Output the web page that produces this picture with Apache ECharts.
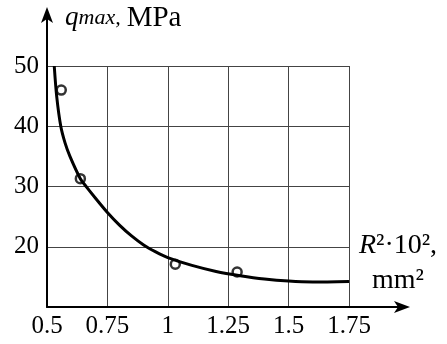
<!DOCTYPE html>
<html>
<head>
<meta charset="utf-8">
<script src="https://cdn.jsdelivr.net/npm/echarts@6/dist/echarts.min.js"></script>
<style>
    html, body { margin: 0; padding: 0; background: #fff; }
    #main { width: 447px; height: 344px; }
</style>
</head>
<body>
<div id="main"></div>
<script type="text/javascript">
    // measured points (circles)
    var pointsX = [0.559, 0.638, 1.031, 1.287];
    var pointsY = [46.0, 31.3, 17.1, 15.8];
    // fitted curve
    var curveX = [0.530, 0.540, 0.557, 0.575, 0.595, 0.638, 0.664, 0.700, 0.750, 0.800, 0.850, 0.900, 0.950, 1.000, 1.100, 1.200, 1.300, 1.400, 1.500, 1.600, 1.750];
    var curveY = [50.0, 45.0, 40.0, 37.2, 35.0, 31.3, 29.9, 28.1, 25.7, 23.6, 21.8, 20.3, 19.15, 18.2, 16.9, 15.9, 15.2, 14.65, 14.3, 14.15, 14.25];
    // axis ticks
    var xTicks = [0.5, 0.75, 1, 1.25, 1.5, 1.75];
    var yTicks = [10, 20, 30, 40, 50];

    function zip(a, b) {
        var out = [];
        for (var i = 0; i < a.length; i++) out.push([a[i], b[i]]);
        return out;
    }

    var serif = 'Liberation Serif';
    var chart = echarts.init(document.getElementById('main'), null, {renderer: 'canvas'});

    chart.setOption({
        backgroundColor: '#fff',
        animation: false,
        grid: [
            // plot area with the grid lines
            {left: 47, right: 98, top: 66, bottom: 37},
            // longer axes with arrows
            {left: 47, right: 43, top: 13, bottom: 37}
        ],
        xAxis: [
            {
                type: 'value', gridIndex: 0,
                min: xTicks[0], max: xTicks[xTicks.length - 1], interval: 0.25,
                axisLine: {show: false},
                axisTick: {show: false},
                axisLabel: {
                    color: '#000', fontFamily: serif, fontSize: 25, margin: 7,
                    showMinLabel: true, showMaxLabel: true
                },
                splitLine: {show: true, lineStyle: {color: '#444', width: 1}}
            },
            {
                type: 'value', gridIndex: 1, min: 0, max: 1,
                axisLine: {show: true, symbol: ['none', 'arrow'], symbolSize: [9, 16], symbolOffset: [0, 6],
                    lineStyle: {color: '#000', width: 2}},
                axisTick: {show: false},
                axisLabel: {show: false},
                splitLine: {show: false},
                name: '{r|R}{t|²·10²,}\n{t|mm²}',
                nameLocation: 'end',
                nameGap: -6,
                nameTextStyle: {
                    align: 'center', verticalAlign: 'bottom', padding: [0, 0, 9, 0],
                    rich: {
                        r: {fontFamily: serif, fontStyle: 'italic', fontSize: 28, color: '#000', lineHeight: 35},
                        t: {fontFamily: serif, fontSize: 28, color: '#000', lineHeight: 35}
                    }
                }
            }
        ],
        yAxis: [
            {
                type: 'value', gridIndex: 0,
                min: yTicks[0], max: yTicks[yTicks.length - 1], interval: 10,
                axisLine: {show: false},
                axisTick: {show: false},
                axisLabel: {
                    color: '#000', fontFamily: serif, fontSize: 25, margin: 8,
                    formatter: function (v) { return v === yTicks[0] ? '' : v; }
                },
                splitLine: {show: true, lineStyle: {color: '#444', width: 1}}
            },
            {
                type: 'value', gridIndex: 1, min: 0, max: 1,
                axisLine: {show: true, symbol: ['none', 'arrow'], symbolSize: [9, 16], symbolOffset: [0, 6],
                    lineStyle: {color: '#000', width: 2}},
                axisTick: {show: false},
                axisLabel: {show: false},
                splitLine: {show: false},
                name: '{q|q}{s|max,}{sp| }{u|MPa}',
                nameLocation: 'end',
                nameGap: -5,
                nameTextStyle: {
                    align: 'left', verticalAlign: 'middle', padding: [0, 0, 0, 18],
                    rich: {
                        q: {fontFamily: serif, fontStyle: 'italic', fontSize: 27, color: '#000'},
                        s: {fontFamily: serif, fontStyle: 'italic', fontSize: 22, color: '#000'},
                        sp: {fontFamily: serif, fontSize: 24, color: '#000'},
                        u: {fontFamily: serif, fontSize: 29, color: '#000'}
                    }
                }
            }
        ],
        series: [
            {
                name: 'curve', type: 'line', xAxisIndex: 0, yAxisIndex: 0,
                data: zip(curveX, curveY),
                smooth: 0.3,
                showSymbol: false,
                lineStyle: {color: '#000', width: 3},
                z: 3
            },
            {
                name: 'points', type: 'scatter', xAxisIndex: 0, yAxisIndex: 0,
                data: zip(pointsX, pointsY),
                symbol: 'circle', symbolSize: 9,
                itemStyle: {color: '#fff', borderColor: '#000', borderWidth: 2.5},
                z: 2
            }
        ]
    });
</script>
</body>
</html>
